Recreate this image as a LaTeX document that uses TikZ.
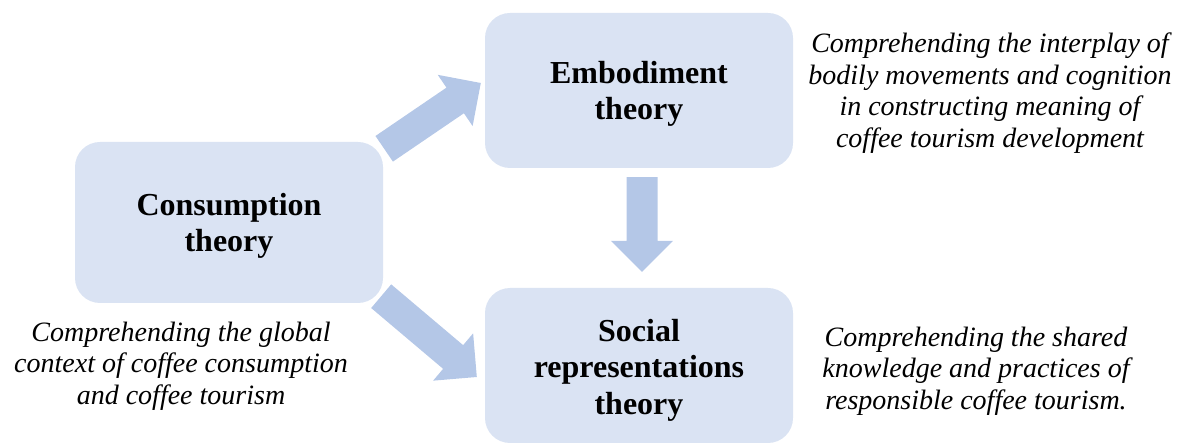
\documentclass[tikz,border=0pt]{standalone}
\usepackage{fontspec}
\setmainfont{Liberation Serif}
\usetikzlibrary{calc}

\definecolor{boxfill}{HTML}{DAE3F3}
\definecolor{arrowfill}{HTML}{B4C7E7}

\tikzset{
  theorybox/.style={fill=boxfill, draw=none, rounded corners=25pt,
    minimum width=308pt, inner sep=0pt, align=center,
    font=\fontsize{32}{36.5}\selectfont\bfseries},
  notetext/.style={inner sep=0pt, align=center,
    font=\fontsize{28}{31.7}\selectfont\itshape},
  blockarrow/.style={fill=arrowfill, draw=none},
}

% block arrow from tail centre #1 to tip #2
\newcommand{\blockarrowpath}[2]{%
  \coordinate (neck) at ($(#2)!31pt!(#1)$);
  \fill[blockarrow]
    ($(#1)!15.5pt!90:(#2)$) -- ($(neck)!15.5pt!-90:(#1)$) --
    ($(neck)!31pt!-90:(#1)$) -- (#2) --
    ($(neck)!31pt!90:(#1)$) -- ($(neck)!15.5pt!90:(#1)$) --
    ($(#1)!15.5pt!-90:(#2)$) -- cycle;
}

\begin{document}
\begin{tikzpicture}[x=1pt, y=-1pt]
  \useasboundingbox (0,0) rectangle (1181,443);

  % theory boxes
  \node[theorybox, minimum height=161pt] (cons) at (229,222.5) {};
  \node[theorybox, minimum height=155pt] (emb) at (639,90.5) {};
  \node[theorybox, minimum height=155pt] (soc) at (639,365.5) {};

  % box titles
  \node[theorybox, fill=none, minimum height=0pt] (consT) at ($(cons)+(0,3.5)$) {Consumption\\theory};
  \node[theorybox, fill=none, minimum height=0pt] (embT) at ($(emb)+(0,3.5)$) {Embodiment\\theory};
  \node[theorybox, fill=none, minimum height=0pt] (socT) at ($(soc)+(0,4.5)$) {Social\\representations\\theory};

  % arrow end points
  \coordinate (t1) at ($(cons.north east)+(1,7)$);
  \coordinate (h1) at ($(emb.west)+(-4,-7.5)$);
  \coordinate (t2) at ($(cons.south east)+(-2,-7)$);
  \coordinate (h2) at ($(soc.west)+(-8,11.5)$);
  \coordinate (t3) at ($(emb.south)+(3,9)$);
  \coordinate (h3) at ($(soc.north)+(3,-16)$);

  \blockarrowpath{t1}{h1}
  \blockarrowpath{t2}{h2}
  \blockarrowpath{t3}{h3}

  % explanatory notes
  \node[notetext] (n1) at (990,93) {Comprehending the interplay of\\bodily movements and cognition\\in constructing meaning of\\coffee tourism development};
  \node[notetext] (n2) at (181,366) {Comprehending the global\\context of coffee consumption\\and coffee tourism};
  \node[notetext] (n3) at (976,371) {Comprehending the shared\\knowledge and practices of\\responsible coffee tourism.};
\end{tikzpicture}
\end{document}
